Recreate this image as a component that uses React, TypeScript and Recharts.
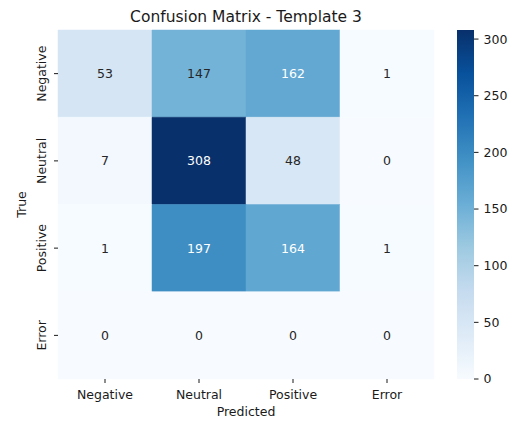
import React from 'react';
import { ScatterChart, Scatter, XAxis, YAxis, ReferenceArea, BarChart, Bar, Label } from 'recharts';

// ---- data ----
const categories = ['Negative', 'Neutral', 'Positive', 'Error'];
const rowNegative = [53, 147, 162, 1];
const rowNeutral = [7, 308, 48, 0];
const rowPositive = [1, 197, 164, 1];
const rowError = [0, 0, 0, 0];
const matrixRows = [rowNegative, rowNeutral, rowPositive, rowError];
const colorbarTicks = [0, 50, 100, 150, 200, 250, 300];
const titleText = 'Confusion Matrix - Template 3';
const xLabelText = 'Predicted';
const yLabelText = 'True';

// ---- colormap (matplotlib Blues) ----
const BLUES = ['#f7fbff', '#deebf7', '#c6dbef', '#9ecae1', '#6baed6', '#4292c6', '#2171b5', '#08519c', '#08306b'];
const hexToRgb = (h: string) => [parseInt(h.slice(1, 3), 16), parseInt(h.slice(3, 5), 16), parseInt(h.slice(5, 7), 16)];
const blues = (t: number) => {
  const tt = Math.max(0, Math.min(1, t)) * (BLUES.length - 1);
  const i = Math.min(BLUES.length - 2, Math.floor(tt));
  const f = tt - i;
  const a = hexToRgb(BLUES[i]);
  const b = hexToRgb(BLUES[i + 1]);
  return a.map((v, k) => Math.round(v + (b[k] - v) * f));
};
const rgbStr = (c: number[]) => `rgb(${c[0]},${c[1]},${c[2]})`;
const textColorFor = (c: number[]) => {
  const lin = c.map((v) => {
    const s = v / 255;
    return s <= 0.03928 ? s / 12.92 : Math.pow((s + 0.055) / 1.055, 2.4);
  });
  const lum = lin[0] * 0.2126 + lin[1] * 0.7152 + lin[2] * 0.0722;
  return lum > 0.408 ? '#262626' : '#ffffff';
};

const vmax = Math.max(...matrixRows.flat());
const vmin = 0;

const cells = matrixRows.flatMap((row, r) =>
  row.map((value, c) => {
    const col = blues((value - vmin) / (vmax - vmin));
    return { row: r, col: c, x: c + 0.5, y: r + 0.5, value, fill: rgbStr(col), textFill: textColorFor(col) };
  })
);

const FONT = 'DejaVu Sans';
const TXT = '#1a1a1a';
const centers = [0.5, 1.5, 2.5, 3.5];

const YTick = (props: any) => {
  const { x, y, payload } = props;
  return (
    <text x={x} y={y} transform={`rotate(-90, ${x}, ${y})`} textAnchor="middle" fontSize={12.5} fontFamily={FONT} fill={TXT}>
      {categories[Math.floor(payload.value)]}
    </text>
  );
};

const AnnotShape = (props: any) => {
  const { cx, cy, payload } = props;
  return (
    <text x={cx} y={cy} dy={4.5} textAnchor="middle" fontSize={12.5} fontFamily={FONT} fill={payload.textFill}>
      {payload.value}
    </text>
  );
};

export default function App() {
  return (
    <div style={{ position: 'absolute', left: 0, top: 0, width: 513, height: 421, background: '#fff' }}>
      <div style={{ position: 'absolute', left: 0, top: 0 }}>
        <ScatterChart width={513} height={421} margin={{ top: 30, right: 79, bottom: 0, left: 0 }}>
          <XAxis
            type="number"
            dataKey="x"
            domain={[0, 4]}
            ticks={centers}
            interval={0}
            allowDataOverflow
            tickFormatter={(v: number) => categories[Math.floor(v)]}
            axisLine={false}
            tickSize={4}
            tickMargin={7}
            height={42}
            tick={{ fontSize: 12.5, fill: TXT, fontFamily: FONT }}
            tickLine={{ stroke: TXT }}
          >
            <Label value={xLabelText} position="center" dy={11.6} style={{ fontSize: 12.5, fill: TXT, fontFamily: FONT }} />
          </XAxis>
          <YAxis
            type="number"
            dataKey="y"
            domain={[0, 4]}
            reversed
            ticks={centers}
            interval={0}
            allowDataOverflow
            axisLine={false}
            tickSize={4}
            tickMargin={8}
            width={58}
            tick={<YTick />}
            tickLine={{ stroke: TXT }}
          >
            <Label value={yLabelText} position="center" angle={-90} dx={-7.5} style={{ fontSize: 12.5, fill: TXT, fontFamily: FONT }} />
          </YAxis>
          {cells.map((c) => (
            <ReferenceArea
              key={`${c.row}-${c.col}`}
              x1={c.col}
              x2={c.col + 1}
              y1={c.row}
              y2={c.row + 1}
              fill={c.fill}
              fillOpacity={1}
              stroke={c.fill}
              strokeWidth={0.5}
              ifOverflow="visible"
            />
          ))}
          <Scatter data={cells} dataKey="value" shape={<AnnotShape />} isAnimationActive={false} />
          <text x={246} y={21.5} textAnchor="middle" fontSize={15.5} fontFamily={FONT} fill={TXT}>
            {titleText}
          </text>
        </ScatterChart>
      </div>
      <div style={{ position: 'absolute', left: 0, top: 0 }}>
        <BarChart
          width={513}
          height={421}
          data={[{ name: 'colorbar', v: vmax }]}
          margin={{ top: 30, right: 0, bottom: 42, left: 457 }}
          barCategoryGap={0}
        >
          <defs>
            <linearGradient id="bluesGrad" x1="0" y1="1" x2="0" y2="0">
              {BLUES.map((c, i) => (
                <stop key={i} offset={i / (BLUES.length - 1)} stopColor={c} />
              ))}
            </linearGradient>
          </defs>
          <XAxis dataKey="name" hide />
          <YAxis
            orientation="right"
            type="number"
            domain={[vmin, vmax]}
            ticks={colorbarTicks}
            interval={0}
            allowDataOverflow
            axisLine={false}
            tickSize={4.5}
            tickMargin={5}
            width={39}
            tick={{ fontSize: 12.5, fill: TXT, fontFamily: FONT }}
            tickLine={{ stroke: TXT }}
          />
          <Bar dataKey="v" fill="url(#bluesGrad)" isAnimationActive={false} />
        </BarChart>
      </div>
    </div>
  );
}
